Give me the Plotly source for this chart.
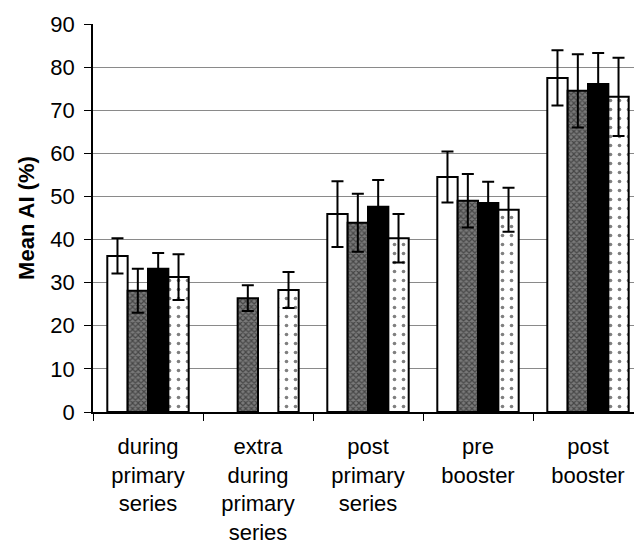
import plotly.graph_objects as go

categories = ["during<br>primary<br>series", "extra<br>during<br>primary<br>series",
              "post<br>primary<br>series", "pre<br>booster", "post<br>booster"]

s1 = [36.2, None, 45.9, 54.5, 77.5]
s1_err = [4.1, None, 7.6, 5.9, 6.4]
s2 = [28.1, 26.4, 43.9, 49.0, 74.5]
s2_err = [5.1, 3.0, 6.7, 6.2, 8.5]
s3 = [33.2, None, 47.6, 48.5, 76.1]
s3_err = [3.7, None, 6.2, 4.9, 7.2]
s4 = [31.3, 28.3, 40.3, 46.9, 73.1]
s4_err = [5.3, 4.2, 5.6, 5.1, 9.1]

y_ticks = list(range(0, 91, 10))

styles = [
    dict(color="white", pattern=dict(shape="")),
    dict(color="#7a7a7a", pattern=dict(shape="x", fgcolor="#111", size=4, solidity=0.5)),
    dict(color="black", pattern=dict(shape="")),
    dict(color="white", pattern=dict(shape=".", fgcolor="black", size=9, solidity=0.13)),
]

fig = go.Figure()
for vals, errs, st in zip([s1, s2, s3, s4], [s1_err, s2_err, s3_err, s4_err], styles):
    fig.add_trace(go.Bar(
        x=categories, y=vals,
        marker=dict(color=st["color"], pattern=st["pattern"],
                    line=dict(color="black", width=2)),
        error_y=dict(type="data", array=errs, visible=True,
                     color="black", thickness=2, width=6),
        showlegend=False,
    ))

fnt = "Liberation Sans, Arial"

fig.update_layout(
    width=634, height=545,
    margin=dict(l=93, r=0, t=24, b=133),
    paper_bgcolor="white", plot_bgcolor="white",
    barmode="group", bargap=0.26, bargroupgap=0,
    font=dict(family=fnt, size=22, color="black"),
    xaxis=dict(
        range=[-0.5, -0.5 + 541 / 110],
        showline=True, linecolor="black", linewidth=1.5,
        ticks="outside", tickson="boundaries", ticklen=7, tickcolor="black",
        tickfont=dict(family=fnt, size=22, color="black"),
        ticklabelstandoff=14, automargin=False,
        showgrid=False,
    ),
    yaxis=dict(
        range=[0, 90], tickvals=y_ticks,
        showline=True, linecolor="black", linewidth=1.5,
        ticks="outside", ticklen=7, tickcolor="black",
        tickfont=dict(family=fnt, size=22, color="black"),
        ticklabelstandoff=5, automargin=False,
        showgrid=True, gridcolor="#8a8a8a", gridwidth=1.3,
        zeroline=False,
        title=dict(text="<b>Mean AI (%)</b>", standoff=10,
                   font=dict(family=fnt, size=22, color="black")),
    ),
)

fig.write_html("out.html")
